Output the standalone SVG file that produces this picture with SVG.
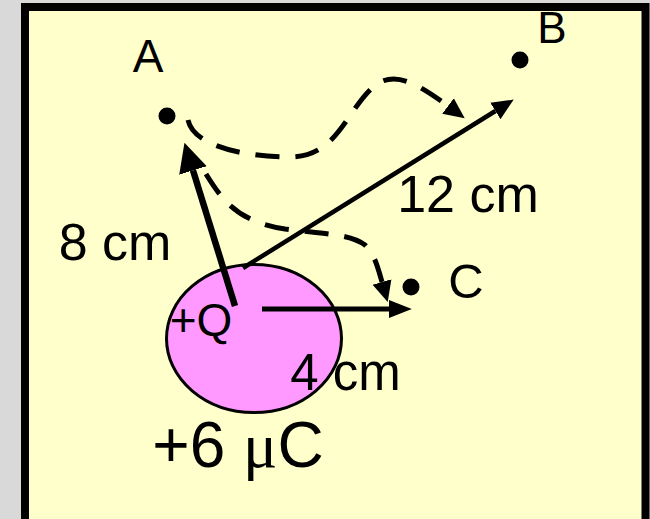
<svg xmlns="http://www.w3.org/2000/svg" width="650" height="519" viewBox="0 0 650 519">
<style>
.t{font-family:"Liberation Sans",Arial,sans-serif;fill:#000}
.dash{fill:none;stroke:#000;stroke-width:5;stroke-dasharray:24 16}
.solid{fill:none;stroke:#000}
.dot{fill:#000}
</style>
<defs>
<marker id="ahDash" markerUnits="userSpaceOnUse" markerWidth="22" markerHeight="22" viewBox="0 -9 18 18" refX="0" refY="0" orient="auto">
<path d="M0,-8 L17,0 L0,8 Z" fill="#000"/>
</marker>
<marker id="ahBig" markerUnits="userSpaceOnUse" markerWidth="30" markerHeight="30" viewBox="0 -13 26 26" refX="0" refY="0" orient="auto">
<path d="M0,-12.5 L25,0 L0,12.5 Z" fill="#000"/>
</marker>
<marker id="ahMid" markerUnits="userSpaceOnUse" markerWidth="24" markerHeight="24" viewBox="0 -9 20 18" refX="0" refY="0" orient="auto">
<path d="M0,-8 L18,0 L0,8 Z" fill="#000"/>
</marker>
<marker id="ahSmall" markerUnits="userSpaceOnUse" markerWidth="24" markerHeight="24" viewBox="0 -8 20 16" refX="0" refY="0" orient="auto">
<path d="M0,-7.5 L19,0 L0,7.5 Z" fill="#000"/>
</marker>
</defs>
<rect x="0" y="0" width="650" height="519" fill="#d9d9d9"/>
<rect x="25" y="7" width="620.5" height="530" fill="#ffffcc" stroke="#000" stroke-width="8"/>

<g id="charge">
<ellipse cx="254" cy="338.5" rx="87.5" ry="74" fill="#ff99ff" stroke="#000" stroke-width="3"/>
<text class="t" x="201" y="336" font-size="46" text-anchor="middle">+Q</text>
</g>

<g id="pointA">
<circle class="dot" cx="167" cy="116" r="8.5"/>
<text class="t" x="148" y="71.7" font-size="46" text-anchor="middle">A</text>
</g>
<g id="pointB">
<circle class="dot" cx="520" cy="60" r="8.5"/>
<text class="t" x="552" y="43.3" font-size="44" text-anchor="middle">B</text>
</g>
<g id="pointC">
<circle class="dot" cx="411" cy="287" r="8.5"/>
<text class="t" x="466" y="298" font-size="49" text-anchor="middle">C</text>
</g>

<g id="connectors">
<line class="solid" x1="235" y1="306" x2="193" y2="170.4" stroke-width="6.5" marker-end="url(#ahBig)"/>
<line class="solid" x1="243" y1="268" x2="495.4" y2="111" stroke-width="4.5" marker-end="url(#ahMid)"/>
<line class="solid" x1="262" y1="309" x2="389" y2="309" stroke-width="5" marker-end="url(#ahSmall)"/>
<path class="dash" d="M188,120 C194,148 250,157 290,157 C335,157 345,115 370,90 C390,70 410,78 448,106" marker-end="url(#ahDash)"/>
<path class="dash" d="M206,174 C222,200 238,222 285,229 C325,234 350,234 365,245 C375,255 378,268 382,282" marker-end="url(#ahDash)"/>
</g>

<g id="labels">
<text class="t" x="468" y="211.7" font-size="52" text-anchor="middle">12 cm</text>
<text class="t" x="115" y="260" font-size="52" text-anchor="middle">8 cm</text>
<text class="t" x="345.5" y="390" font-size="51" text-anchor="middle">4 cm</text>
<text class="t" x="238" y="467" font-size="64" text-anchor="middle">+6 <tspan font-family="'Liberation Serif',serif">μ</tspan>C</text>
</g>
</svg>
